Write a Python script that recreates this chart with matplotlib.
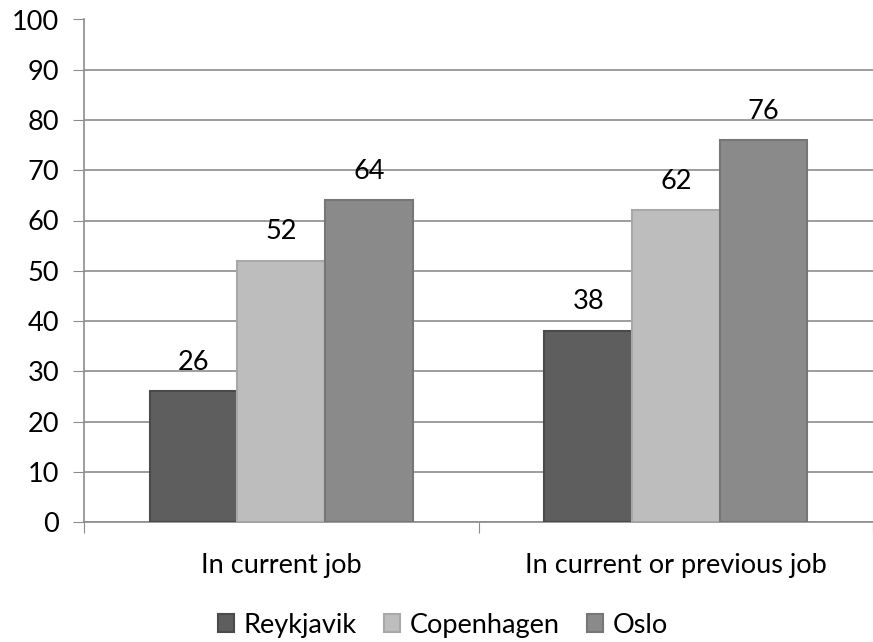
import matplotlib.pyplot as plt
import numpy as np

categories = ["In current job", "In current or previous job"]
cities = ["Reykjavik", "Copenhagen", "Oslo"]
reykjavik = [26, 38]
copenhagen = [52, 62]
oslo = [64, 76]

colors = ["#5e5e5e", "#bdbdbd", "#8a8a8a"]
edges = ["#4a4a4a", "#a8a8a8", "#767676"]

plt.rcParams['font.family'] = ['Lato', 'DejaVu Sans']
fs = 19.5

fig = plt.figure(figsize=(8.73, 6.42), dpi=100)
ax = fig.add_axes([84 / 873, 120 / 642, 789 / 873, 502.5 / 642])

x = np.arange(len(categories))
w = 0.222
for i, (vals, name) in enumerate(zip([reykjavik, copenhagen, oslo], cities)):
    bars = ax.bar(x + (i - 1) * w, vals, w, color=colors[i], edgecolor=edges[i],
                  linewidth=1.5, label=name, zorder=3)
    for b, v in zip(bars, vals):
        ax.text(b.get_x() + b.get_width() / 2, v + 3.3, str(v), ha="center",
                va="bottom", fontsize=fs, color="black")

ax.set_xlim(-0.5, 1.5)
ax.set_ylim(0, 100)
ax.set_yticks(range(0, 101, 10))
ax.yaxis.grid(True, color="#8c8c8c", linewidth=1.2, zorder=0)
ax.set_xticks([-0.5, 0.5, 1.5], minor=False)
ax.set_xticklabels(["", "", ""])
ax.set_xticks(x, minor=True)
ax.set_xticklabels(categories, minor=True, fontsize=fs)
ax.tick_params(axis="x", which="minor", length=0, pad=22)
ax.tick_params(axis="x", which="major", length=8, color="#8c8c8c")
ax.tick_params(axis="y", length=8, color="#8c8c8c", labelsize=fs, pad=10)

for s in ["top", "right"]:
    ax.spines[s].set_visible(False)
for s in ["left", "bottom"]:
    ax.spines[s].set_color("#8c8c8c")
    ax.spines[s].set_linewidth(1.2)

ax.legend(loc="center", bbox_to_anchor=(0.455, -0.205), ncol=3, frameon=False,
          fontsize=fs, handlelength=0.6, handleheight=0.6, handletextpad=0.35,
          columnspacing=1.0, borderpad=0)

fig.savefig("out.png", dpi=100)
